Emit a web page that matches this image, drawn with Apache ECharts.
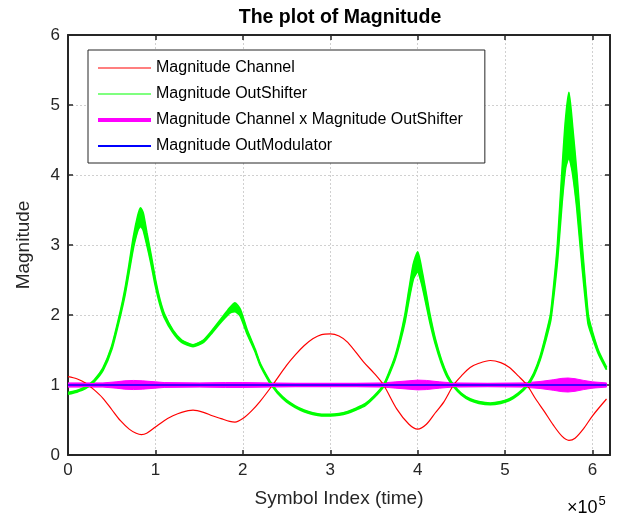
<!DOCTYPE html>
<html>
<head>
<meta charset="utf-8">
<script src="https://cdn.jsdelivr.net/npm/echarts@6/dist/echarts.min.js"></script>
<style>html,body{margin:0;padding:0;background:#fff;}#c{width:624px;height:518px;}</style>
</head>
<body>
<div id="c"></div>
<script>
// x values are in units of 1e5 symbols
const xTicks = [0, 1, 2, 3, 4, 5, 6];
const yTicks = [0, 1, 2, 3, 4, 5, 6];

const redX = [0, 0.1, 0.2, 0.3, 0.4, 0.5, 0.6, 0.7, 0.78, 0.84, 0.9, 1.0, 1.1, 1.2, 1.3, 1.43, 1.55, 1.65, 1.75, 1.85, 1.91, 2.0, 2.1, 2.2, 2.34, 2.5, 2.6, 2.7, 2.8, 2.9, 3.0, 3.1, 3.2, 3.38, 3.5, 3.61, 3.76, 3.9, 4.0, 4.1, 4.2, 4.3, 4.41, 4.5, 4.6, 4.7, 4.83, 4.95, 5.05, 5.15, 5.25, 5.35, 5.45, 5.55, 5.65, 5.73, 5.8, 5.9, 6.0, 6.16];
const redY = [1.12, 1.09, 1.03, 0.93, 0.81, 0.65, 0.49, 0.37, 0.31, 0.29, 0.31, 0.40, 0.49, 0.56, 0.61, 0.64, 0.61, 0.56, 0.52, 0.48, 0.47, 0.52, 0.63, 0.77, 1.00, 1.28, 1.43, 1.56, 1.66, 1.72, 1.73, 1.70, 1.61, 1.33, 1.17, 1.00, 0.66, 0.44, 0.37, 0.44, 0.60, 0.76, 1.00, 1.13, 1.25, 1.31, 1.35, 1.32, 1.25, 1.13, 1.00, 0.80, 0.62, 0.43, 0.27, 0.21, 0.24, 0.38, 0.56, 0.80];

const greenX = [0.00, 0.10, 0.20, 0.30, 0.40, 0.50, 0.60, 0.65, 0.70, 0.75, 0.80, 0.83, 0.86, 0.90, 0.95, 1.00, 1.05, 1.10, 1.20, 1.30, 1.43, 1.55, 1.65, 1.75, 1.85, 1.91, 1.97, 2.05, 2.14, 2.20, 2.30, 2.34, 2.40, 2.50, 2.60, 2.70, 2.80, 2.90, 3.00, 3.10, 3.20, 3.30, 3.40, 3.50, 3.61, 3.68, 3.74, 3.80, 3.855, 3.90, 3.95, 4.00, 4.05, 4.10, 4.14, 4.20, 4.27, 4.34, 4.41, 4.50, 4.60, 4.70, 4.83, 4.95, 5.05, 5.15, 5.25, 5.33, 5.40, 5.46, 5.52, 5.56, 5.60, 5.65, 5.69, 5.73, 5.77, 5.82, 5.88, 5.95, 6.00, 6.07, 6.16];
const greenHigh = [0.89, 0.92, 0.97, 1.07, 1.24, 1.55, 2.05, 2.35, 2.72, 3.12, 3.42, 3.53, 3.45, 3.18, 2.85, 2.50, 2.22, 2.02, 1.78, 1.64, 1.57, 1.64, 1.78, 1.94, 2.10, 2.17, 2.08, 1.78, 1.51, 1.30, 1.07, 1.00, 0.90, 0.78, 0.70, 0.64, 0.60, 0.58, 0.58, 0.59, 0.62, 0.67, 0.73, 0.84, 1.00, 1.20, 1.40, 1.68, 2.00, 2.35, 2.72, 2.90, 2.62, 2.28, 2.00, 1.66, 1.36, 1.14, 1.00, 0.88, 0.80, 0.76, 0.74, 0.76, 0.80, 0.88, 1.00, 1.17, 1.40, 1.68, 2.00, 2.45, 3.00, 4.01, 4.75, 5.18, 4.70, 4.01, 3.00, 2.00, 1.75, 1.48, 1.25];
const greenLow = [0.87, 0.90, 0.95, 1.05, 1.21, 1.51, 2.00, 2.28, 2.63, 2.98, 3.22, 3.27, 3.22, 3.02, 2.74, 2.42, 2.16, 1.97, 1.75, 1.61, 1.55, 1.61, 1.75, 1.90, 2.03, 2.05, 1.99, 1.73, 1.48, 1.28, 1.05, 0.98, 0.88, 0.76, 0.68, 0.62, 0.58, 0.56, 0.56, 0.57, 0.60, 0.65, 0.71, 0.82, 0.98, 1.17, 1.36, 1.62, 1.91, 2.22, 2.52, 2.62, 2.43, 2.14, 1.90, 1.60, 1.32, 1.11, 0.98, 0.86, 0.78, 0.74, 0.72, 0.74, 0.78, 0.86, 0.98, 1.14, 1.36, 1.62, 1.92, 2.32, 2.80, 3.60, 4.10, 4.26, 4.05, 3.55, 2.72, 1.88, 1.68, 1.44, 1.22];

const productX = [0, 0.4, 0.55, 0.65, 0.75, 0.85, 1.0, 1.1, 1.5, 1.8, 2.0, 2.3, 2.6, 3.3, 3.6, 3.75, 3.9, 4.0, 4.1, 4.25, 4.4, 4.8, 5.2, 5.4, 5.55, 5.65, 5.72, 5.8, 5.9, 6.0, 6.16];
const productHigh = [1.03, 1.03, 1.045, 1.06, 1.065, 1.06, 1.045, 1.035, 1.03, 1.035, 1.035, 1.03, 1.025, 1.025, 1.03, 1.045, 1.06, 1.07, 1.065, 1.045, 1.03, 1.025, 1.03, 1.05, 1.075, 1.095, 1.10, 1.09, 1.065, 1.045, 1.03];
const productLow = [0.97, 0.97, 0.955, 0.94, 0.935, 0.94, 0.955, 0.965, 0.97, 0.965, 0.965, 0.97, 0.975, 0.975, 0.97, 0.955, 0.94, 0.93, 0.935, 0.955, 0.97, 0.975, 0.97, 0.95, 0.925, 0.905, 0.90, 0.91, 0.935, 0.955, 0.97];
const productMid = [1, 1, 1, 1, 1, 1, 1, 1, 1, 1, 1, 1, 1, 1, 1, 1, 1, 1, 1, 1, 1, 1, 1, 1, 1, 1, 1, 1, 1, 1, 1];

const modX = [0, 6.16];
const modY = [1, 1];

const FONT = '"Liberation Sans", Arial, Helvetica, sans-serif';
const AX = '#262626';

function pairs(xs, ys) { return xs.map((x, i) => [x, ys[i]]); }

function band(name, xs, hi, lo, color, sw) {
  return {
    type: 'custom', name: name, silent: true, clip: true,
    data: [[xs[0], hi[0]]],
    renderItem: function (params, api) {
      const pts = [];
      for (let i = 0; i < xs.length; i++) pts.push(api.coord([xs[i], hi[i]]));
      for (let i = xs.length - 1; i >= 0; i--) pts.push(api.coord([xs[i], lo[i]]));
      return { type: 'polygon', shape: { points: pts }, style: { fill: color, stroke: color, lineWidth: sw } };
    }
  };
}

const chart = echarts.init(document.getElementById('c'), null, { renderer: 'canvas' });
chart.setOption({
  animation: false,
  backgroundColor: '#ffffff',
  textStyle: { fontFamily: FONT },
  grid: { left: 68, right: 14, top: 35, bottom: 63, containLabel: false },
  graphic: [
    { type: 'text', x: 340, y: 18, z: 10,
      style: { text: 'The plot of Magnitude', font: 'bold 19.5px ' + FONT, fill: '#000', textAlign: 'center', textVerticalAlign: 'middle' } },
    { type: 'text', x: 567, y: 508, z: 10,
      style: { text: '{a|×10}{b|5}', textVerticalAlign: 'middle',
        rich: { a: { fontSize: 18, fontFamily: FONT, color: '#262626' },
                b: { fontSize: 13, fontFamily: FONT, color: '#262626', verticalAlign: 'top', padding: [0, 0, 13, 1] } } } }
  ],
  legend: {
    orient: 'vertical', left: 88, top: 50,
    padding: [10, 22, 9, 10], itemGap: 10, itemWidth: 53, itemHeight: 16,
    borderColor: AX, borderWidth: 1, backgroundColor: '#ffffff',
    symbolKeepAspect: true, selectedMode: false,
    itemStyle: { borderWidth: 0 },
    textStyle: { fontSize: 16, color: '#000', fontFamily: FONT },
    data: [
      { name: 'Magnitude Channel', icon: 'path://M0,0H53V1H0Z', itemStyle: { color: '#ff0000' } },
      { name: 'Magnitude OutShifter', icon: 'path://M0,0H53V1H0Z', itemStyle: { color: '#00ff00' } },
      { name: 'Magnitude Channel x Magnitude OutShifter', icon: 'path://M0,0H53V4H0Z', itemStyle: { color: '#ff00ff' } },
      { name: 'Magnitude OutModulator', icon: 'path://M0,0H53V2H0Z', itemStyle: { color: '#0000ff' } }
    ]
  },
  xAxis: [
    { type: 'value', min: 0, max: 6.2, interval: 1, position: 'bottom',
      name: 'Symbol Index (time)', nameLocation: 'middle', nameGap: 34,
      nameTextStyle: { fontSize: 19, color: '#262626', fontFamily: FONT },
      axisLine: { onZero: false, lineStyle: { color: AX, width: 2 } },
      axisTick: { inside: true, length: 5, lineStyle: { color: AX, width: 1.5 } },
      axisLabel: { fontSize: 17, color: '#262626', margin: 7, fontFamily: FONT,
        formatter: function (v) { return xTicks.indexOf(v) >= 0 ? String(v) : ''; } },
      splitLine: { show: true, lineStyle: { color: '#d0d0d0', type: [2, 2], width: 1 } } },
    { type: 'value', min: 0, max: 6.2, interval: 1, position: 'top',
      axisLine: { onZero: false, lineStyle: { color: AX, width: 2 } },
      axisTick: { inside: true, length: 5, lineStyle: { color: AX, width: 1.5 } },
      axisLabel: { show: false }, splitLine: { show: false } }
  ],
  yAxis: [
    { type: 'value', min: 0, max: 6, interval: 1, position: 'left',
      name: 'Magnitude', nameLocation: 'middle', nameGap: 35, nameRotate: 90,
      nameTextStyle: { fontSize: 19, color: '#262626', fontFamily: FONT },
      axisLine: { show: true, onZero: false, lineStyle: { color: AX, width: 2 } },
      axisTick: { show: true, inside: true, length: 5, lineStyle: { color: AX, width: 1.5 } },
      axisLabel: { fontSize: 17, color: '#262626', margin: 8, fontFamily: FONT,
        formatter: function (v) { return yTicks.indexOf(v) >= 0 ? String(v) : ''; } },
      splitLine: { show: true, lineStyle: { color: '#d0d0d0', type: [2, 2], width: 1 } } },
    { type: 'value', min: 0, max: 6, interval: 1, position: 'right',
      axisLine: { show: true, onZero: false, lineStyle: { color: AX, width: 2 } },
      axisTick: { show: true, inside: true, length: 5, lineStyle: { color: AX, width: 1.5 } },
      axisLabel: { show: false }, splitLine: { show: false } }
  ],
  series: [
    { type: 'line', name: 'Magnitude Channel', data: pairs(redX, redY), showSymbol: false, symbol: 'none',
      smooth: 0.3, color: '#ff0000', itemStyle: { color: '#ff0000' }, lineStyle: { color: '#ff0000', width: 1.2 } },
    band('greenBand', greenX, greenHigh, greenLow, '#00ff00', 0.5),
    { type: 'line', name: 'greenLowEdge', data: pairs(greenX, greenLow), showSymbol: false, symbol: 'none',
      smooth: 0.2, color: '#00ff00', lineStyle: { color: '#00ff00', width: 2 } },
    { type: 'line', name: 'Magnitude OutShifter', data: pairs(greenX, greenHigh), showSymbol: false, symbol: 'none',
      smooth: 0.2, color: '#00ff00', itemStyle: { color: '#00ff00' }, lineStyle: { color: '#00ff00', width: 2 } },
    band('productBand', productX, productHigh, productLow, '#ff00ff', 1),
    { type: 'line', name: 'Magnitude Channel x Magnitude OutShifter', data: pairs(productX, productMid), showSymbol: false, symbol: 'none',
      color: '#ff00ff', itemStyle: { color: '#ff00ff' }, lineStyle: { color: '#ff00ff', width: 4 } },
    { type: 'line', name: 'Magnitude OutModulator', data: pairs(modX, modY), showSymbol: false, symbol: 'none',
      color: '#0000ff', itemStyle: { color: '#0000ff' }, lineStyle: { color: '#0000ff', width: 1.5 } }
  ]
});
</script>
</body>
</html>
